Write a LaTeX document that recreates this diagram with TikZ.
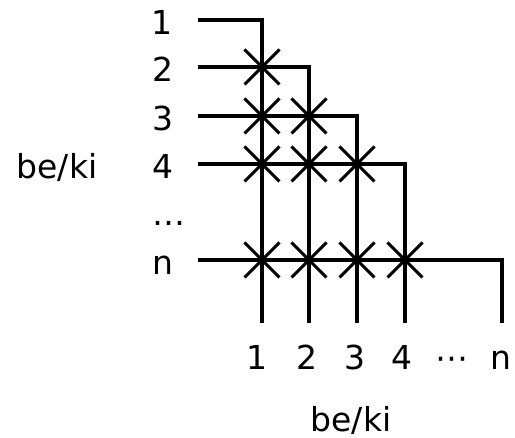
\documentclass[tikz,border=0pt]{standalone}
\usepackage{fontspec}
\setmainfont{DejaVu Sans}
\usetikzlibrary{shapes.misc}
\begin{document}
\begin{tikzpicture}[x=1pt,y=-1pt,
  lbl/.style={font=\fontsize{33}{33}\selectfont, inner sep=0pt, anchor=base},
  wire/.style={line width=3.5pt},
  xmark/.style={cross out, draw, minimum size=32pt, inner sep=0pt, line width=3pt}]
\useasboundingbox (0,0) rectangle (515,438);
% rows and columns
\def\ra{20}\def\rb{67}\def\rc{116}\def\rd{164}\def\rn{260}
\def\ca{262}\def\cb{309}\def\cc{357}\def\cd{405}\def\cn{502}
\coordinate (s1) at (198,\ra);
\coordinate (s2) at (198,\rb);
\coordinate (s3) at (198,\rc);
\coordinate (s4) at (198,\rd);
\coordinate (sn) at (198,\rn);
\coordinate (e1) at (\ca,323);
\coordinate (e2) at (\cb,323);
\coordinate (e3) at (\cc,323);
\coordinate (e4) at (\cd,323);
\coordinate (en) at (\cn,323);
\draw[wire] (s1) -| (e1);
\draw[wire] (s2) -| (e2);
\draw[wire] (s3) -| (e3);
\draw[wire] (s4) -| (e4);
\draw[wire] (sn) -| (en);
% crossings
\node[xmark] (x21) at (\ca,\rb) {};
\node[xmark] (x31) at (\ca,\rc) {};
\node[xmark] (x32) at (\cb,\rc) {};
\node[xmark] (x41) at (\ca,\rd) {};
\node[xmark] (x42) at (\cb,\rd) {};
\node[xmark] (x43) at (\cc,\rd) {};
\node[xmark] (xn1) at (\ca,\rn) {};
\node[xmark] (xn2) at (\cb,\rn) {};
\node[xmark] (xn3) at (\cc,\rn) {};
\node[xmark] (xn4) at (\cd,\rn) {};
% left labels
\node[lbl] (l1) at (162,\ra+15) {1};
\node[lbl] (l2) at (163,\rb+15) {2};
\node[lbl] (l3) at (163,\rc+15) {3};
\node[lbl] (l4) at (163,\rd+15) {4};
\node[lbl] (ld) at (169,226) {…};
\node[lbl] (ln) at (163,\rn+15) {n};
\node[lbl] (lt) at (57,179) {be/ki};
% bottom labels
\node[lbl] (b1) at (257,370) {1};
\node[lbl] (b2) at (307,370) {2};
\node[lbl] (b3) at (355,370) {3};
\node[lbl] (b4) at (402,370) {4};
\node[lbl] (bd) at (452,370) {⋯};
\node[lbl] (bn) at (501,370) {n};
\node[lbl] (bt) at (351,432) {be/ki};
\end{tikzpicture}
\end{document}
